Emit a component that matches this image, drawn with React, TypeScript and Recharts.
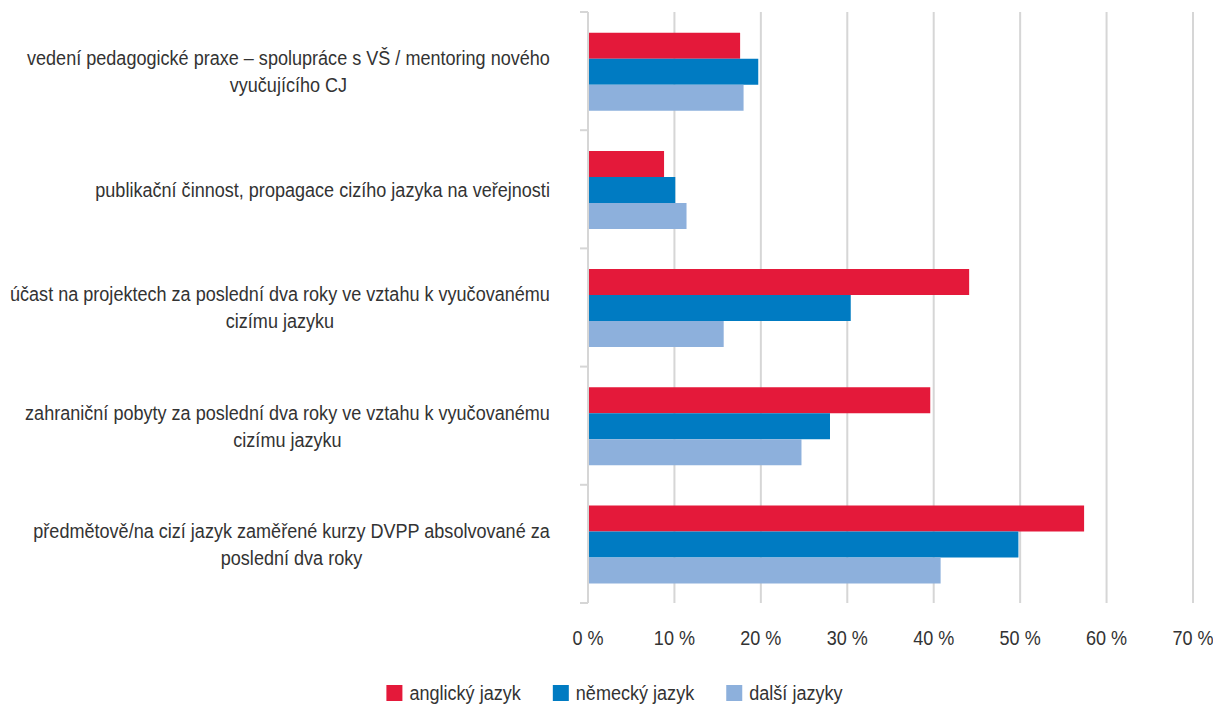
import { BarChart, Bar, XAxis, YAxis, CartesianGrid, Legend } from "recharts";

/* ---------- data ---------- */
const categories = [
  "vedení pedagogické praxe – spolupráce s VŠ / mentoring nového\nvyučujícího CJ",
  "publikační činnost, propagace cizího jazyka na veřejnosti",
  "účast na projektech za poslední dva roky ve vztahu k vyučovanému\ncizímu jazyku",
  "zahraniční pobyty za poslední dva roky ve vztahu k vyučovanému\ncizímu jazyku",
  "předmětově/na cizí jazyk zaměřené kurzy DVPP absolvované za\nposlední dva roky",
];
const anglicky = [17.6, 8.8, 44.1, 39.6, 57.4];
const nemecky = [19.7, 10.1, 30.4, 28.0, 49.8];
const dalsi = [18.0, 11.4, 15.7, 24.7, 40.8];
const seriesNames = ["anglický jazyk", "německý jazyk", "další jazyky"];
const xTicks = [0, 10, 20, 30, 40, 50, 60, 70];

/* ---------- look ---------- */
const COLORS = ["#e4193a", "#007bc2", "#8db0dc"];
const GRID = "#d6d6d6";
const TEXT = "#333333";
const FONT = '"Liberation Sans", Arial, sans-serif';
const FONT_SIZE = 21;
const K = 0.86; // horizontal squeeze, the original uses a condensed face

const W = 1213;
const H = 706;
const MARGIN = { top: 12, right: 20, left: 0, bottom: 0 };
const Y_AXIS_W = 588;
const X_AXIS_H = 60;
const LEGEND_H = 43;
const PLOT_H = H - MARGIN.top - MARGIN.bottom - X_AXIS_H - LEGEND_H;
const BAND = PLOT_H / categories.length;
const LABEL_GAP = 38;

const rows = categories.map((name, i) => ({
  name,
  a: anglicky[i],
  b: nemecky[i],
  c: dalsi[i],
}));

let measureCtx: CanvasRenderingContext2D | null = null;
function textWidth(s: string) {
  if (!measureCtx) measureCtx = document.createElement("canvas").getContext("2d");
  if (!measureCtx) return s.length * 9 * K;
  measureCtx.font = `${FONT_SIZE}px ${FONT}`;
  return measureCtx.measureText(s).width * K;
}

// squeeze around x so centred text stays centred
const squeeze = (x: number) => `matrix(${K} 0 0 1 ${x * (1 - K)} 0)`;

// category label: lines centred in a box whose right edge sits near the axis,
// plus tick marks on the band boundaries (Excel style)
function CategoryTick(props: any) {
  const { x, y, payload, index } = props;
  const axisX = x + LABEL_GAP;
  const lines = String(payload.value).split("\n");
  const maxW = Math.max(...lines.map(textWidth));
  const cx = x - maxW / 2;
  const lineH = 27;
  const y0 = y - ((lines.length - 1) * lineH) / 2;
  const half = BAND / 2;
  return (
    <g>
      <line x1={axisX - 8} x2={axisX} y1={y - half} y2={y - half} stroke={GRID} strokeWidth={2} />
      {index === categories.length - 1 && (
        <line x1={axisX - 8} x2={axisX} y1={y + half} y2={y + half} stroke={GRID} strokeWidth={2} />
      )}
      <text
        x={cx}
        y={y0}
        textAnchor="middle"
        fill={TEXT}
        fontFamily={FONT}
        fontSize={FONT_SIZE}
        transform={squeeze(cx)}
      >
        {lines.map((l, i) => (
          <tspan key={i} x={cx} y={y0 + i * lineH} dy="0.35em">
            {l}
          </tspan>
        ))}
      </text>
    </g>
  );
}

function PercentTick(props: any) {
  const { x, y, payload } = props;
  return (
    <text
      x={x}
      y={y + 14}
      textAnchor="middle"
      fill={TEXT}
      fontFamily={FONT}
      fontSize={FONT_SIZE}
      transform={squeeze(x)}
    >
      {`${payload.value} %`}
    </text>
  );
}

function LegendContent() {
  const sq = 16;
  const pad = 7;
  const gap = 32;
  const widths = seriesNames.map(textWidth);
  const total =
    widths.reduce((s, w) => s + sq + pad + w, 0) + gap * (seriesNames.length - 1);
  let cur = W / 2 + 8 - total / 2;
  const items = seriesNames.map((n, i) => {
    const x0 = cur;
    cur += sq + pad + widths[i] + gap;
    const tx = x0 + sq + pad;
    return (
      <g key={n}>
        <rect x={x0} y={22} width={sq} height={sq} fill={COLORS[i]} />
        <text
          x={tx}
          y={37}
          fill={TEXT}
          fontFamily={FONT}
          fontSize={FONT_SIZE}
          transform={squeeze(tx)}
        >
          {n}
        </text>
      </g>
    );
  });
  return (
    <svg width={W} height={LEGEND_H} style={{ display: "block" }}>
      {items}
    </svg>
  );
}

export default function App() {
  return (
    <div style={{ position: "absolute", left: 0, top: 0, width: W, height: H, background: "#fff" }}>
      <BarChart
        width={W}
        height={H}
        data={rows}
        layout="vertical"
        margin={MARGIN}
        barCategoryGap="17.5%"
        barGap={0}
      >
        <CartesianGrid horizontal={false} stroke={GRID} strokeWidth={2} />
        <XAxis
          type="number"
          domain={[0, 70]}
          ticks={xTicks}
          interval={0}
          height={X_AXIS_H}
          axisLine={false}
          tickLine={false}
          tickSize={0}
          tickMargin={28}
          tick={<PercentTick />}
        />
        <YAxis
          type="category"
          dataKey="name"
          width={Y_AXIS_W}
          interval={0}
          axisLine={{ stroke: GRID, strokeWidth: 2 }}
          tickLine={false}
          tickSize={0}
          tickMargin={LABEL_GAP}
          tick={<CategoryTick />}
        />
        <Legend
          verticalAlign="bottom"
          height={LEGEND_H}
          wrapperStyle={{ left: 0, width: W }}
          content={<LegendContent />}
        />
        <Bar dataKey="a" name={seriesNames[0]} fill={COLORS[0]} isAnimationActive={false} />
        <Bar dataKey="b" name={seriesNames[1]} fill={COLORS[1]} isAnimationActive={false} />
        <Bar dataKey="c" name={seriesNames[2]} fill={COLORS[2]} isAnimationActive={false} />
      </BarChart>
    </div>
  );
}
